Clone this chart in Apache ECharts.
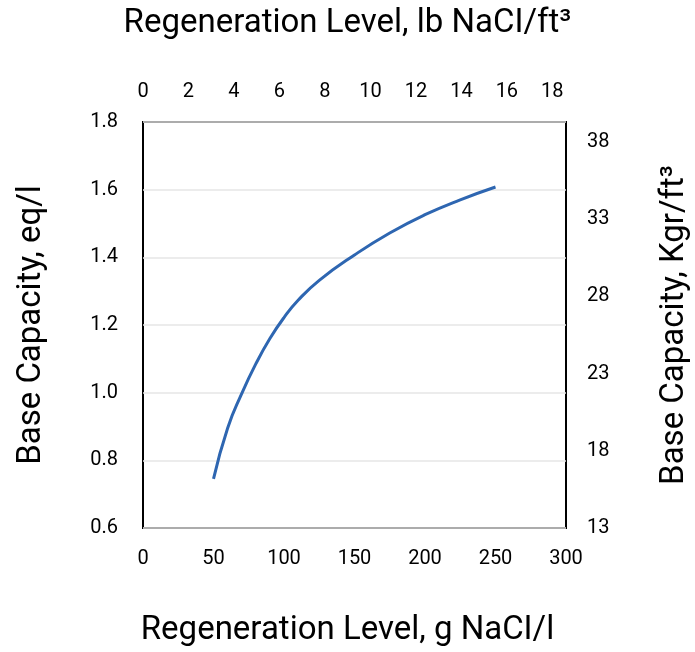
<!DOCTYPE html>
<html>
<head>
<meta charset="utf-8">
<script src="https://cdn.jsdelivr.net/npm/echarts@6/dist/echarts.min.js"></script>
<style>html,body{margin:0;padding:0;background:#fff}#c{width:695px;height:652px}</style>
</head>
<body>
<div id="c"></div>
<script>
const regenG = [50, 60, 70, 80, 90, 100, 110, 125, 150, 175, 200, 225, 250];
const capacityEq = [0.745, 0.895, 0.997, 1.085, 1.16, 1.222, 1.273, 1.332, 1.407, 1.472, 1.526, 1.570, 1.608];
const bottomTitle = 'Regeneration Level, g NaCI/l';
const topTitle = 'Regeneration Level, lb NaCI/ft³';
const leftTitle = 'Base Capacity, eq/l';
const rightTitle = 'Base Capacity, Kgr/ft³';

const font = 'Roboto';
const chart = echarts.init(document.getElementById('c'));
const lbl = {color: '#000', fontSize: 20, fontFamily: font};
const ttl = {fontSize: 33, fontWeight: 'normal', color: '#000', fontFamily: font};
chart.setOption({
  animation: false,
  grid: {left: 143, right: 129, top: 122, bottom: 124, show: true, borderColor: '#000', borderWidth: 2,
         containLabel: false, outerBoundsMode: 'none'},
  title: [
    {text: topTitle, left: 'center', top: 2, textStyle: ttl},
    {text: bottomTitle, left: 'center', top: 609, textStyle: ttl}
  ],
  xAxis: [
    {type: 'value', position: 'bottom', min: 0, max: 300, interval: 50,
     axisLine: {show: false}, axisTick: {show: false}, splitLine: {show: false},
     axisLabel: Object.assign({margin: 21}, lbl)},
    {type: 'value', position: 'top', min: 0, max: 18.6, interval: 2,
     axisLine: {show: false}, axisTick: {show: false}, splitLine: {show: false},
     axisLabel: Object.assign({margin: 20, showMaxLabel: false}, lbl)}
  ],
  yAxis: [
    {type: 'value', position: 'left', min: 0.6, max: 1.8, interval: 0.2,
     name: leftTitle, nameLocation: 'middle', nameGap: 95, nameTextStyle: ttl,
     axisLine: {show: false}, axisTick: {show: false},
     splitLine: {show: true, lineStyle: {color: '#e6e6e6', width: 1.5}},
     axisLabel: Object.assign({margin: 25, formatter: v => v.toFixed(1)}, lbl)},
    {type: 'value', position: 'right', min: 13, max: 39.3, interval: 5,
     name: rightTitle, nameLocation: 'middle', nameGap: 92, nameRotate: 90, nameTextStyle: ttl,
     axisLine: {show: false}, axisTick: {show: false}, splitLine: {show: false},
     axisLabel: Object.assign({margin: 21, showMaxLabel: false}, lbl)}
  ],
  series: [{
    type: 'line', xAxisIndex: 0, yAxisIndex: 0, smooth: 0.5, showSymbol: false,
    lineStyle: {color: '#2e66b1', width: 3},
    data: regenG.map((g, i) => [g, capacityEq[i]])
  }]
});
</script>
</body>
</html>
